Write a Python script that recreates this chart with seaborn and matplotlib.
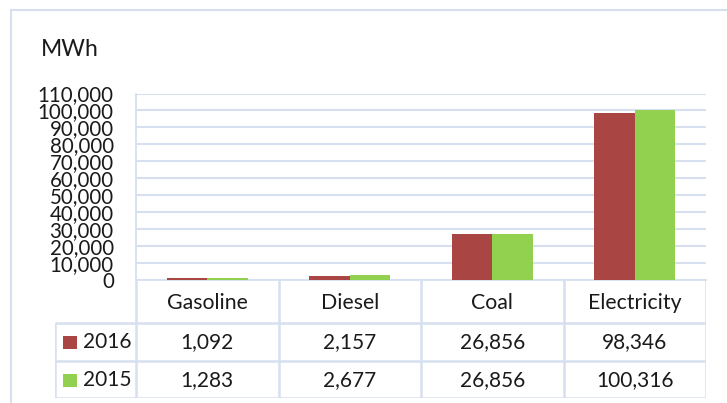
import matplotlib
matplotlib.use("Agg")
import matplotlib.pyplot as plt
import seaborn as sns
import pandas as pd
from matplotlib.ticker import FuncFormatter, MultipleLocator
from matplotlib.patches import Rectangle

fuels = ["Gasoline", "Diesel", "Coal", "Electricity"]
years = ["2016", "2015"]
mwh_2016 = [1092, 2157, 26856, 98346]
mwh_2015 = [1283, 2677, 26856, 100316]
colors = {"2016": "#A94543", "2015": "#92D050"}

df = pd.DataFrame({
    "fuel": fuels * 2,
    "year": ["2016"] * len(fuels) + ["2015"] * len(fuels),
    "mwh": mwh_2016 + mwh_2015,
})

sns.set_theme(style="white")
plt.rcParams["font.family"] = ["Lato", "DejaVu Sans"]

W, H = 727, 403
fig = plt.figure(figsize=(W / 100, H / 100), dpi=100)


def fx(px):
    return px / W


def fy(py):
    return 1 - py / H


line_c = "#D6E0F0"
txt_c = "#1a1a1a"

# outer chart frame (cut off at right and bottom)
fig.patches.append(Rectangle((fx(11), -0.05), 1.0, fy(10) + 0.05,
                             transform=fig.transFigure, fill=False,
                             ec=line_c, lw=1.5))

# plot area
ax = fig.add_axes([fx(136), fy(280), fx(706) - fx(136), fy(93.5) - fy(280)])
sns.barplot(data=df, x="fuel", y="mwh", hue="year", hue_order=years,
            palette=colors, width=0.57, saturation=1, linewidth=0,
            ax=ax, legend=False)
ax.set_xlim(-0.5, len(fuels) - 0.5)
ax.set_ylim(0, 110000)
ax.yaxis.set_major_locator(MultipleLocator(10000))
ax.yaxis.set_major_formatter(FuncFormatter(lambda v, p: f"{v:,.0f}"))
ax.grid(axis="y", color=line_c, lw=1.5)
ax.set_axisbelow(True)
ax.set_xlabel("")
ax.set_ylabel("")
ax.set_xticklabels([])
ax.tick_params(axis="x", length=0)
ax.tick_params(axis="y", length=0, labelsize=14.8, pad=16, labelcolor=txt_c)
for s in ["top", "right"]:
    ax.spines[s].set_visible(False)
for s in ["left", "bottom"]:
    ax.spines[s].set_color(line_c)
    ax.spines[s].set_linewidth(1.3)
    ax.spines[s].set_zorder(0.6)

fig.text(fx(41), fy(50), "MWh", fontsize=16.5, color=txt_c, va="center", ha="left")

# data table below the plot
col_w = 142.5
tax = fig.add_axes([fx(55), fy(398), fx(706) - fx(55), fy(280) - fy(398)])
tax.axis("off")


def u(px):
    return -0.5 + (px - 136) / col_w


left = u(55)
right = len(fuels) - 0.5
tax.set_xlim(left, right)
tax.set_ylim(398, 280)

kw = dict(color=line_c, lw=1.8, solid_capstyle="butt")
for yy in [323, 361, 398]:
    tax.plot([left, right], [yy, yy], **kw)
for i in range(len(fuels) + 1):
    tax.plot([i - 0.5, i - 0.5], [280, 398], **kw)
tax.plot([left, left], [323, 398], **kw)

for i, f in enumerate(fuels):
    tax.text(i, 303, f, ha="center", va="center", fontsize=15.3, color=txt_c)
rows = [(years[0], mwh_2016, 342), (years[1], mwh_2015, 380)]
for yr, vals, yc in rows:
    tax.add_patch(Rectangle((u(63), yc - 6.5), u(77) - u(63), 13,
                            fc=colors[yr], ec="none"))
    tax.text(u(83), yc, yr, ha="left", va="center", fontsize=15, color=txt_c)
    for i, v in enumerate(vals):
        tax.text(i, yc, f"{v:,}", ha="center", va="center", fontsize=15,
                 color=txt_c)

fig.savefig("out.png", dpi=100)
